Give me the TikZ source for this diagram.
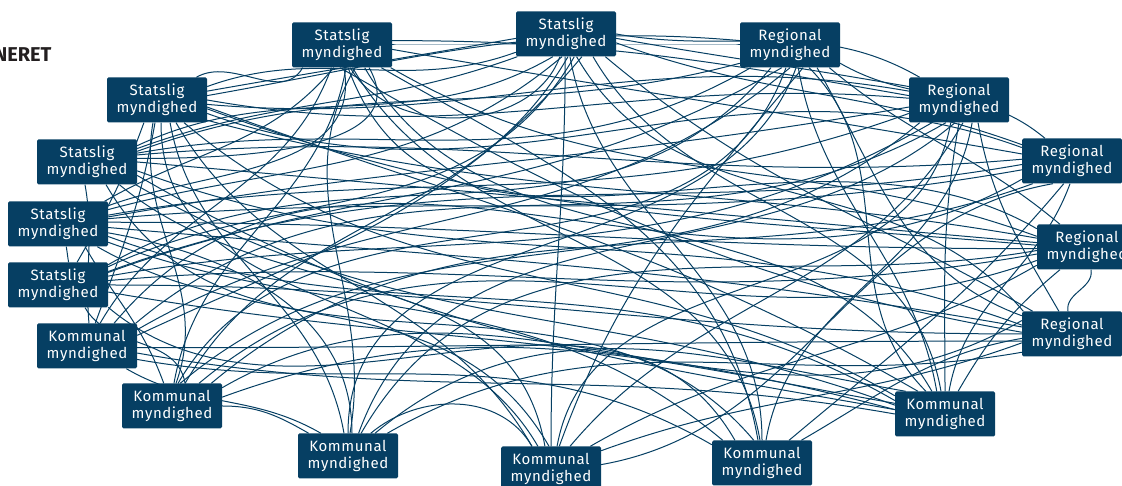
\documentclass[tikz,border=0pt]{standalone}
\usepackage{fontspec}
\setmainfont{Fira Sans}
\newfontfamily\boxfont{Fira Sans}[LetterSpace=4]
\usetikzlibrary{backgrounds}
\definecolor{navy}{HTML}{063F63}
\definecolor{headgrey}{HTML}{231F20}
\tikzset{
  box/.style={fill=navy, text=white, minimum width=100pt, minimum height=45pt, inner sep=0pt,
    rounded corners=1.5pt, align=center, font=\boxfont\fontsize{15}{16.5}\selectfont},
  link/.style={draw=navy, line width=1pt}
}
\begin{document}
\begin{tikzpicture}[x=1pt,y=1pt]
\useasboundingbox (0,0) rectangle (1122,486);
\node[anchor=base east, text=headgrey, font=\fontsize{20}{24}\selectfont\bfseries] (head) at (55,424) {NERET};
\node[box] (A) at (342,441) {Statslig\\myndighed};
\node[box] (B) at (566,452) {Statslig\\myndighed};
\node[box] (C) at (790,441) {Regional\\myndighed};
\node[box] (D) at (959,386) {Regional\\myndighed};
\node[box] (E) at (1072,325) {Regional\\myndighed};
\node[box] (F) at (1087,239) {Regional\\myndighed};
\node[box] (G) at (1072,152) {Regional\\myndighed};
\node[box] (H) at (945,72) {Kommunal\\myndighed};
\node[box] (I) at (762,23) {Kommunal\\myndighed};
\node[box] (J) at (551,17) {Kommunal\\myndighed};
\node[box] (K) at (348,30) {Kommunal\\myndighed};
\node[box] (L) at (172,80) {Kommunal\\myndighed};
\node[box] (M) at (87,140) {Kommunal\\myndighed};
\node[box] (N) at (58,201) {Statslig\\myndighed};
\node[box] (O) at (58,262) {Statslig\\myndighed};
\node[box] (P) at (87,324) {Statslig\\myndighed};
\node[box] (Q) at (157,386) {Statslig\\myndighed};
\begin{pgfonlayer}{background}
\begin{scope}[every path/.style={link}]
% Q
\draw (Q.5) to[out=10,in=175] (C.175);
\draw (Q.-5) to[out=-5,in=170] (D.170);
\draw (Q.-15) to[out=-20,in=160] (E.165);
\draw (Q.-22) to[out=-15,in=170] (F.170);
\draw (Q.-100) to[out=-100,in=70] (L.80);
\draw (Q.-60) to[out=-80,in=100] (K.100);
\draw (Q.15) to[out=20,in=200] (B.-160);
\draw (Q.30) to[out=30,in=-120] (A.-150);
\draw (Q.-40) to[out=-40,in=150] (H.160);
\draw (Q.-80) to[out=-90,in=120] (J.120);
% P
\draw (P.8) to[out=5,in=185] (E.178);
\draw (P.0) to[out=-5,in=175] (F.175);
\draw (P.18) to[out=25,in=-150] (B.-120);
\draw (P.12) to[out=20,in=-165] (C.-160);
\draw (P.-10) to[out=-20,in=160] (G.170);
\draw (P.-95) to[out=-80,in=95] (M.85);
\draw (P.-50) to[out=-60,in=130] (I.110);
\draw (P.4) to[out=0,in=-60] (A.-40);
\draw (P.-25) to[out=-30,in=160] (H.170);
% O
\draw (O.2) to[out=0,in=180] (F.182);
\draw (O.-4) to[out=-5,in=170] (G.172);
\draw (O.10) to[out=10,in=-160] (D.-165);
\draw (O.16) to[out=15,in=-140] (B.-100);
\draw (O.26) to[out=30,in=-130] (A.-110);
\draw (O.-30) to[out=-30,in=120] (J.95);
\draw (O.-14) to[out=-20,in=150] (H.165);
\draw (O.-70) to[out=-80,in=100] (N.65);
\draw (O.-40) to[out=-60,in=110] (L.110);
\draw (O.-10) to[out=-10,in=90] (K.80);
\draw (O.6) to[out=5,in=-170] (E.-170);
% N
\draw (N.0) to[out=0,in=180] (G.180);
\draw (N.5) to[out=5,in=-170] (F.-172);
\draw (N.-8) to[out=-10,in=165] (H.175);
\draw (N.14) to[out=20,in=-150] (C.-110);
\draw (N.20) to[out=25,in=-120] (B.-70);
\draw (N.-24) to[out=-40,in=120] (I.140);
\draw (N.-40) to[out=-60,in=100] (L.60);
\draw (N.50) to[out=60,in=-110] (Q.-120);
\draw (N.10) to[out=10,in=-150] (D.-140);
% M
\draw (M.-2) to[out=0,in=180] (G.188);
\draw (M.18) to[out=30,in=-140] (C.-90);
\draw (M.12) to[out=25,in=-130] (B.-55);
\draw (M.70) to[out=70,in=-100] (Q.-95);
\draw (M.25) to[out=40,in=-150] (D.-120);
\draw (M.-8) to[out=-10,in=170] (H.180);
\draw (M.-30) to[out=-30,in=150] (K.140);
% L
\draw (L.0) to[out=0,in=150] (K.150);
\draw (L.85) to[out=80,in=-100] (A.-80);
\draw (L.30) to[out=40,in=-160] (E.-150);
\draw (L.20) to[out=30,in=-150] (G.165);
\draw (L.60) to[out=60,in=-120] (B.-85);
\draw (L.10) to[out=20,in=170] (H.168);
% K
\draw (K.85) to[out=80,in=-120] (A.-60);
\draw (K.30) to[out=30,in=-170] (G.-160);
\draw (K.40) to[out=40,in=170] (H.150);
\draw (K.90) to[out=90,in=-110] (C.-75);
\draw (K.65) to[out=70,in=-140] (D.-100);
\draw (K.45) to[out=40,in=120] (J.130);
% J
\draw (J.90) to[out=90,in=-90] (B.-92);
\draw (J.70) to[out=70,in=-130] (C.-60);
\draw (J.20) to[out=20,in=-160] (G.-170);
\draw (J.5) to[out=10,in=-170] (E.-130);
\draw (J.30) to[out=30,in=-150] (F.-160);
\draw (J.130) to[out=120,in=-60] (Q.-50);
\draw (J.105) to[out=100,in=-40] (P.-35);
\draw (J.50) to[out=50,in=-120] (D.-80);
% I
\draw (I.90) to[out=90,in=-80] (B.-80);
\draw (I.40) to[out=40,in=-130] (E.-110);
\draw (I.100) to[out=100,in=-30] (A.-30);
\draw (I.150) to[out=140,in=-20] (O.-20);
\draw (I.30) to[out=30,in=-170] (G.-175);
\draw (I.80) to[out=80,in=-100] (D.-60);
\draw (I.160) to[out=150,in=-10] (M.-15);
% H
\draw (H.90) to[out=90,in=-100] (D.-90);
\draw (H.100) to[out=100,in=-60] (B.-40);
\draw (H.140) to[out=150,in=-20] (Q.-8);
\draw (H.60) to[out=60,in=-140] (F.-140);
\draw (H.80) to[out=80,in=-110] (E.-95);
\draw (H.120) to[out=120,in=-60] (A.-45);
\draw (H.175) to[out=170,in=-30] (P.-15);
\draw (H.130) to[out=135,in=-45] (C.-50);
% G
\draw (G.100) to[out=100,in=-80] (F.-80);
\draw (G.178) to[out=170,in=-30] (A.-95);
\draw (G.150) to[out=150,in=-40] (B.-30);
\draw (G.160) to[out=160,in=-60] (C.-40);
\draw (G.120) to[out=120,in=-80] (D.-50);
% F
\draw (F.178) to[out=175,in=-20] (Q.-10);
\draw (F.168) to[out=160,in=-30] (A.-25);
\draw (F.140) to[out=140,in=-40] (C.-30);
\draw (F.-176) to[out=-170,in=60] (K.60);
\draw (F.-165) to[out=-160,in=40] (L.40);
% E
\draw (E.172) to[out=170,in=-10] (A.-5);
\draw (E.162) to[out=160,in=-20] (B.-10);
\draw (E.140) to[out=140,in=-30] (C.-20);
\draw (E.-160) to[out=-150,in=50] (M.40);
\draw (E.-176) to[out=-170,in=20] (N.15);
% D
\draw (D.175) to[out=170,in=0] (A.5);
\draw (D.178) to[out=175,in=-10] (Q.0);
\draw (D.150) to[out=150,in=-10] (B.0);
\draw (D.-150) to[out=-140,in=40] (L.70);
\draw (D.-110) to[out=-100,in=80] (J.75);
\draw (D.-172) to[out=-170,in=10] (O.8);
% C
\draw (C.180) to[out=180,in=0] (A.0);
\draw (C.-150) to[out=-150,in=10] (P.10);
\draw (C.-100) to[out=-110,in=60] (L.75);
\draw (C.-70) to[out=-80,in=100] (H.110);
\draw (C.-130) to[out=-130,in=30] (N.22);
% B
\draw (B.185) to[out=190,in=10] (Q.10);
\draw (B.-155) to[out=-160,in=20] (P.15);
\draw (B.-105) to[out=-110,in=-60] (A.-70);
\draw (B.-5) to[out=-10,in=170] (D.165);
\draw (B.-65) to[out=-60,in=130] (G.155);
% A
\draw (A.-85) to[out=-80,in=20] (O.20);
\draw (A.-115) to[out=-110,in=60] (M.60);
\draw (A.-65) to[out=-60,in=100] (I.95);
\draw (A.-75) to[out=-70,in=150] (F.160);
\end{scope}
\end{pgfonlayer}
\end{tikzpicture}
\end{document}
